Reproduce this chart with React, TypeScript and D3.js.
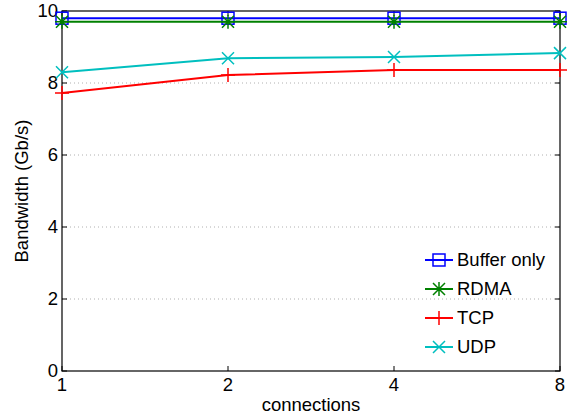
import React from "react";
import * as d3 from "d3";

const connections = [1, 2, 4, 8];
const bufferOnly = [9.8, 9.8, 9.8, 9.8];
const rdma = [9.7, 9.7, 9.7, 9.7];
const tcp = [7.72, 8.22, 8.36, 8.36];
const udp = [8.3, 8.69, 8.72, 8.83];
const yTicks = [0, 2, 4, 6, 8, 10];
const seriesNames = ["Buffer only", "RDMA", "TCP", "UDP"];
const seriesColors = ["#0000ff", "#008000", "#ff0000", "#00bfbf"];
const seriesMarkers = ["square", "star", "plus", "x"];

const W = 578, H = 420;
const L = 62, R = 560, T = 11, B = 371;

function Marker({ type, x, y, color }: { type: string; x: number; y: number; color: string }) {
  const s = 6;
  if (type === "square")
    return <rect x={x - s} y={y - s} width={2 * s} height={2 * s} fill="none" stroke={color} strokeWidth={1.5} />;
  if (type === "plus")
    return <path d={`M${x - s - 1},${y}H${x + s + 1}M${x},${y - s - 1}V${y + s + 1}`} stroke={color} strokeWidth={1.5} />;
  if (type === "x")
    return <path d={`M${x - s},${y - s}L${x + s},${y + s}M${x - s},${y + s}L${x + s},${y - s}`} stroke={color} strokeWidth={1.5} />;
  return (
    <path
      d={`M${x - s - 1},${y}H${x + s + 1}M${x},${y - s - 1}V${y + s + 1}M${x - s},${y - s}L${x + s},${y + s}M${x - s},${y + s}L${x + s},${y - s}`}
      stroke={color}
      strokeWidth={1.5}
    />
  );
}

export default function App() {
  const x = d3.scaleLog().base(2).domain([1, 8]).range([L, R]);
  const y = d3.scaleLinear().domain([0, 10]).range([B, T]);
  const data = [bufferOnly, rdma, tcp, udp];
  const line = d3.line<number>().x((_, i) => x(connections[i])).y((d) => y(d));
  const font = "'Liberation Sans', Arial, sans-serif";
  const fs = 18.5;
  const legendX = 425, legendY0 = 260, legendDy = 29;

  return (
    <svg width={W} height={H} style={{ position: "absolute", left: 0, top: 0, fontFamily: font }}>
      <rect width={W} height={H} fill="#fff" />
      {yTicks.filter((t) => t > 0 && t < 10).map((t) => (
        <line key={t} x1={L} x2={R} y1={y(t)} y2={y(t)} stroke="#b0b0b0" strokeDasharray="1,3" strokeWidth={1} />
      ))}
      <rect x={L} y={T} width={R - L} height={B - T} fill="none" stroke="#000" strokeWidth={1.2} />
      {yTicks.map((t) => (
        <g key={t}>
          <line x1={L} x2={L + 5} y1={y(t)} y2={y(t)} stroke="#000" />
          <line x1={R} x2={R - 5} y1={y(t)} y2={y(t)} stroke="#000" />
          <text x={L - 4} y={y(t)} dy="0.35em" textAnchor="end" fontSize={fs}>{t}</text>
        </g>
      ))}
      {connections.map((c) => (
        <g key={c}>
          <line x1={x(c)} x2={x(c)} y1={B} y2={B - 5} stroke="#000" />
          <line x1={x(c)} x2={x(c)} y1={T} y2={T + 5} stroke="#000" />
          <text x={x(c)} y={B + 20} textAnchor="middle" fontSize={fs}>{c}</text>
        </g>
      ))}
      <text x={(L + R) / 2} y={411} textAnchor="middle" fontSize={fs}>connections</text>
      <text transform={`translate(28,${(T + B) / 2}) rotate(-90)`} textAnchor="middle" fontSize={fs}>Bandwidth (Gb/s)</text>
      {data.map((d, si) => (
        <g key={si}>
          <path d={line(d) || ""} fill="none" stroke={seriesColors[si]} strokeWidth={2} />
          {d.map((v, i) => (
            <Marker key={i} type={seriesMarkers[si]} x={x(connections[i])} y={y(v)} color={seriesColors[si]} />
          ))}
        </g>
      ))}
      {seriesNames.map((n, i) => {
        const ly = legendY0 + i * legendDy;
        return (
          <g key={n}>
            <line x1={legendX} x2={legendX + 28} y1={ly} y2={ly} stroke={seriesColors[i]} strokeWidth={2} />
            <Marker type={seriesMarkers[i]} x={legendX + 14} y={ly} color={seriesColors[i]} />
            <text x={legendX + 32} y={ly} dy="0.35em" fontSize={fs}>{n}</text>
          </g>
        );
      })}
    </svg>
  );
}
